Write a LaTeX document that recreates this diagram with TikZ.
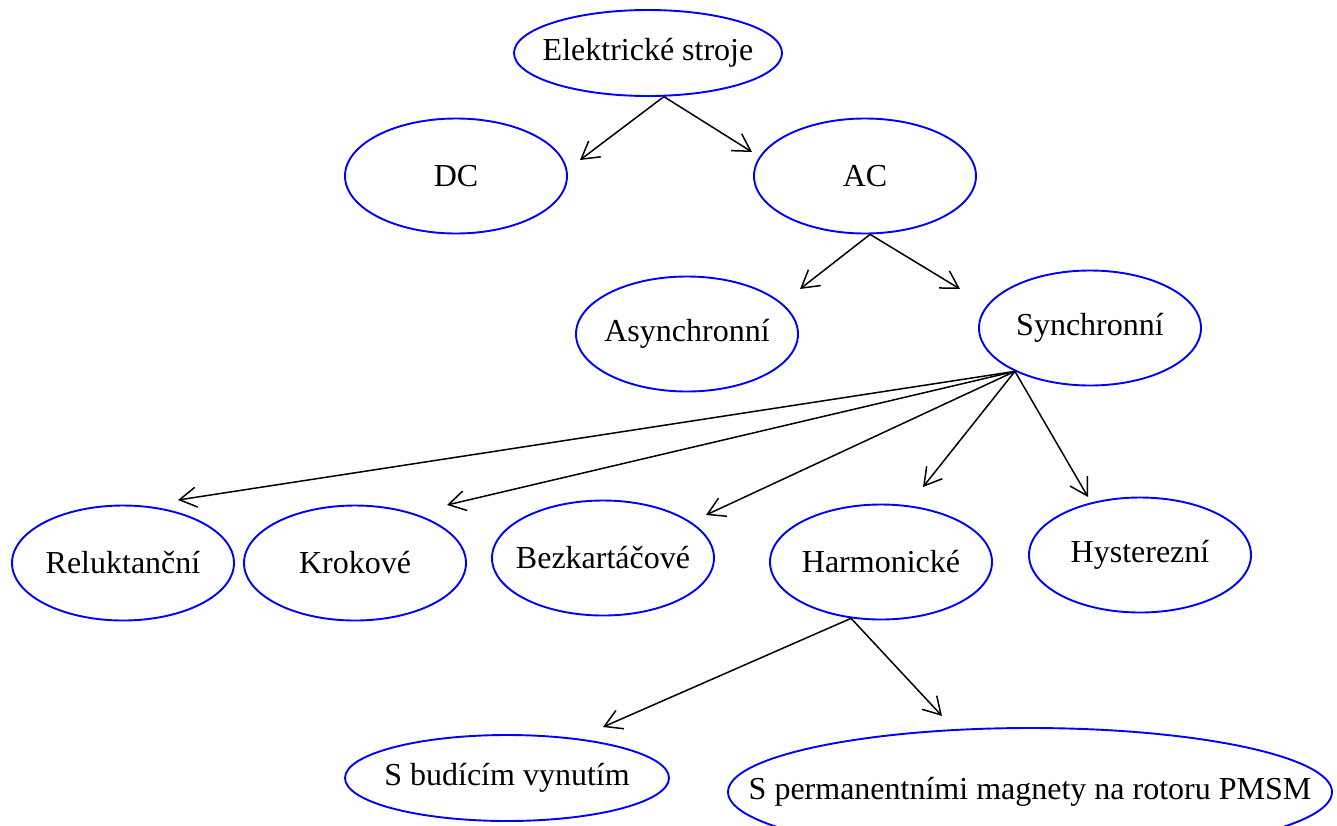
\documentclass[tikz,border=0pt]{standalone}
\usepackage{fontspec}
\setmainfont{Liberation Serif}
\usetikzlibrary{shapes.geometric,arrows.meta}
\begin{document}
\begin{tikzpicture}[x=1pt,y=-1pt,line width=1.5pt,
  elips/.style={ellipse,draw=blue,line width=1.9pt,inner xsep=-100pt,inner ysep=0pt,
    minimum width=222,minimum height=115,font=\fontsize{32}{38}\selectfont},
  >={Straight Barb[length=17pt,width=20pt]}]
\useasboundingbox (0,0) rectangle (1337,825);
\coordinate (ES) at (648,53);
\coordinate (DC) at (456,176);
\coordinate (AC) at (865,176);
\coordinate (AS) at (687,334);
\coordinate (SY) at (1090,328);
\coordinate (RE) at (123,563);
\coordinate (KR) at (355,563);
\coordinate (BE) at (603,558);
\coordinate (HA) at (881,562);
\coordinate (HY) at (1140,555);
\coordinate (SB) at (507,778);
\coordinate (PM) at (1030,792);

% arrow tips
\coordinate (DC2) at (580,160);
\coordinate (AC2) at (752,152);
\coordinate (AS2) at (800,289);
\coordinate (SY2) at (960,289);
\coordinate (RE2) at (178,500);
\coordinate (KR2) at (447,505);
\coordinate (BE2) at (706,515);
\coordinate (HA2) at (923,487);
\coordinate (HY2) at (1088,497);
\coordinate (SB2) at (603,727);
\coordinate (PM2) at (942,716);


\node[elips,minimum width=268,minimum height=86] (ES1) at (ES) {Elektrické stroje};
\node[elips] (DC1) at (DC) {DC};
\node[elips] (AC1) at (AC) {AC};
\node[elips] (AS1) at (AS) {Asynchronní};
\node[elips] (SY1) at (SY) {Synchronní};
\node[elips] (RE1) at (RE) {Reluktanční};
\node[elips] (KR1) at (KR) {Krokové};
\node[elips] (BE1) at (BE) {Bezkartáčové};
\node[elips] (HA1) at (HA) {Harmonické};
\node[elips] (HY1) at (HY) {Hysterezní};
\node[elips,minimum width=324,minimum height=86] (SB1) at (SB) {S budícím vynutím};
\node[elips,minimum width=604,minimum height=128] (PM1) at (PM) {S permanentními magnety na rotoru PMSM};

\draw[->] (ES1.-70) -- (DC2);
\draw[->] (ES1.-70) -- (AC2);
\draw[->] (AC1.-85) -- (AS2);
\draw[->] (AC1.-85) -- (SY2);
\draw[->] (SY1.-150) -- (RE2);
\draw[->] (SY1.-150) -- (KR2);
\draw[->] (SY1.-150) -- (BE2);
\draw[->] (SY1.-150) -- (HA2);
\draw[->] (SY1.-150) -- (HY2);
\draw[->] (HA1.-118) -- (SB2);
\draw[->] (HA1.-118) -- (PM2);


\end{tikzpicture}
\end{document}
